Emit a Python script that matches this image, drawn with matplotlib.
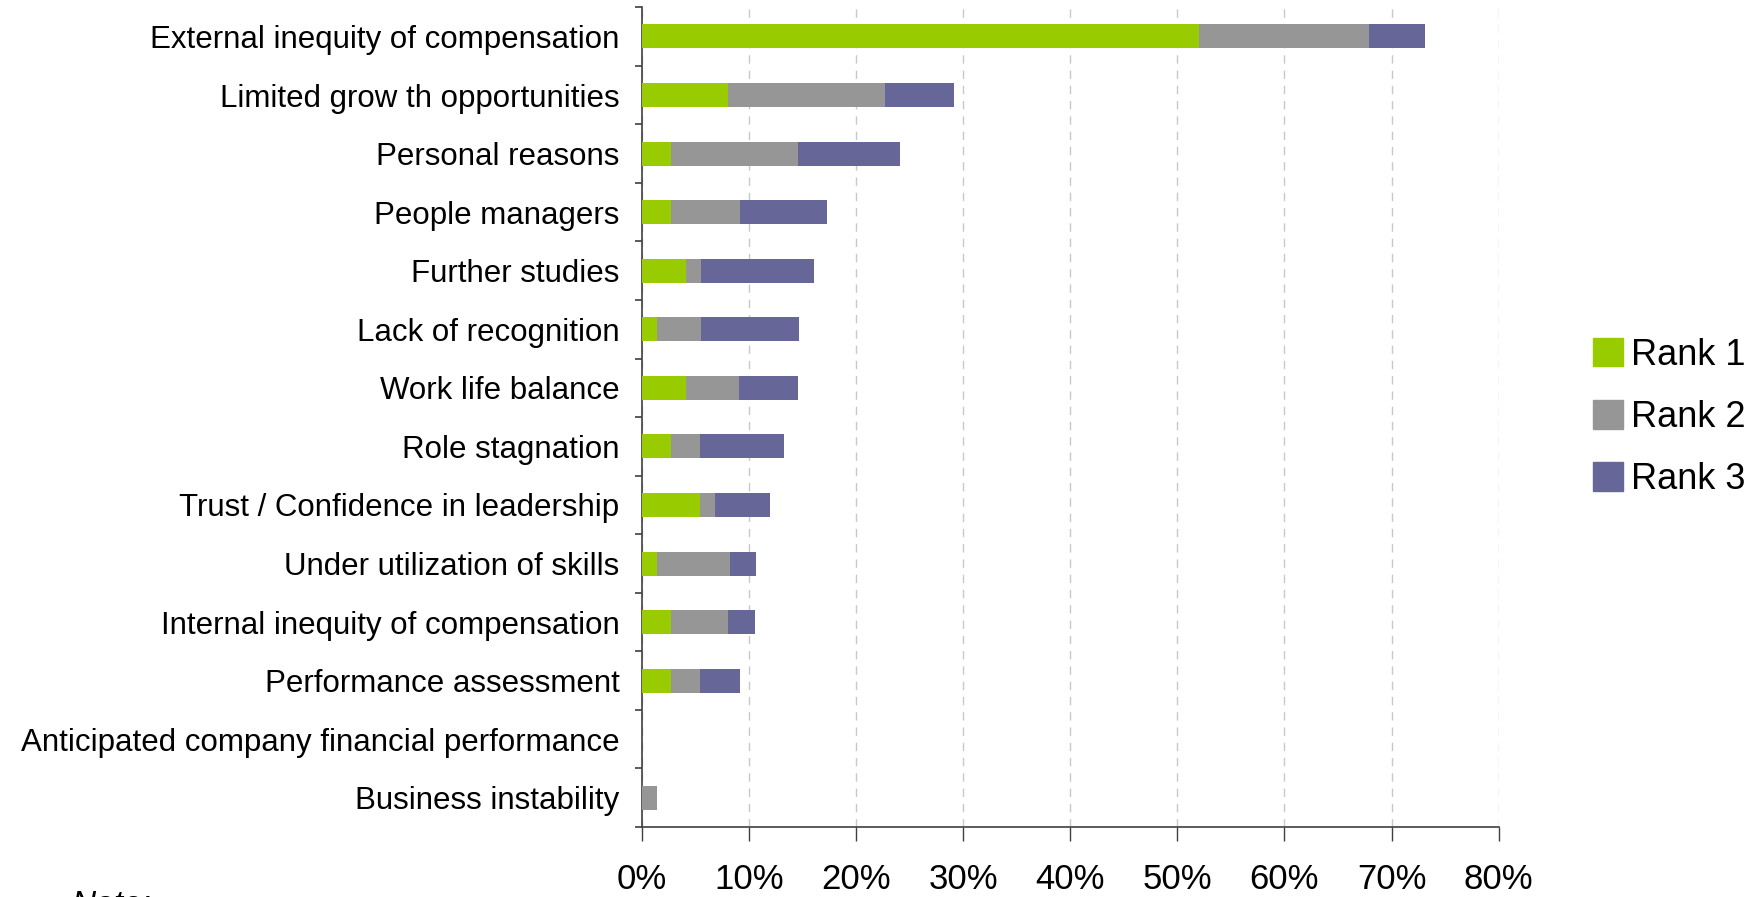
import matplotlib.pyplot as plt
from matplotlib.patches import Patch
from matplotlib.ticker import FixedLocator, FuncFormatter
import numpy as np

# categories, top to bottom as shown
categorias = ['External inequity of compensation',
              'Limited grow th opportunities',
              'Personal reasons',
              'People managers',
              'Further studies',
              'Lack of recognition',
              'Work life balance',
              'Role stagnation',
              'Trust / Confidence in leadership',
              'Under utilization of skills',
              'Internal inequity of compensation',
              'Performance assessment',
              'Anticipated company financial performance',
              'Business instability']

# percent of respondents per rank
rank1 = [52.0, 8.1, 2.7, 2.7, 4.1, 1.4, 4.1, 2.7, 5.4, 1.4, 2.7, 2.7, 0.0, 0.0]
rank2 = [15.9, 14.6, 11.9, 6.5, 1.4, 4.1, 5.0, 2.7, 1.4, 6.8, 5.4, 2.7, 0.0, 1.4]
rank3 = [5.2, 6.5, 9.5, 8.1, 10.6, 9.2, 5.5, 7.9, 5.2, 2.5, 2.5, 3.8, 0.0, 0.0]

series = ['Rank 1', 'Rank 2', 'Rank 3']
colores = ['#99cc00', '#969696', '#666699']
xticks = [0, 10, 20, 30, 40, 50, 60, 70, 80]

fig = plt.figure(figsize=(17.59, 8.97), dpi=100)
ax = fig.add_axes([0.3648, 0.078, 0.4872, 0.914])

y = np.arange(len(categorias))
izq = np.zeros(len(categorias))
for vals, col in zip([rank1, rank2, rank3], colores):
    ax.barh(y, vals, left=izq, height=0.41, color=col, zorder=3)
    izq = izq + np.array(vals)

ax.set_ylim(len(categorias) - 0.5, -0.5)
ax.set_xlim(0, 80)

ax.set_yticks(y)
ax.set_yticklabels(categorias, fontsize=22.5, family='Liberation Sans')
ax.yaxis.set_minor_locator(FixedLocator(np.arange(len(categorias) + 1) - 0.5))
ax.tick_params(axis='y', which='major', length=0, pad=16)
ax.tick_params(axis='y', which='minor', length=5, width=1.2, color='#404040')

ax.set_xticks(xticks)
ax.xaxis.set_major_formatter(FuncFormatter(lambda v, p: '%d%%' % v))
ax.tick_params(axis='x', length=10, width=1, color='#404040', pad=16)
for lab in ax.get_xticklabels():
    lab.set_family(['Liberation Sans Narrow', 'Liberation Sans'])
    lab.set_fontsize(25)

ax.grid(axis='x', color='#c8c8c8', linestyle=(0, (6, 5)), linewidth=1, zorder=0)
for s in ['top', 'right']:
    ax.spines[s].set_visible(False)
for s in ['left', 'bottom']:
    ax.spines[s].set_color('#404040')
    ax.spines[s].set_linewidth(1.2)

handles = [Patch(color=c, label=s) for c, s in zip(colores, series)]
fig.legend(handles=handles, loc='center left', bbox_to_anchor=(0.887, 0.535),
           frameon=False, prop={'family': 'Liberation Sans', 'size': 26},
           handlelength=0.85, handleheight=0.85, handletextpad=0.2, labelspacing=0.75)

fig.text(0.041, 0.008, 'Note:', fontsize=24, style='italic', va='top',
         family='Liberation Sans')

fig.savefig('out.png', dpi=100)
